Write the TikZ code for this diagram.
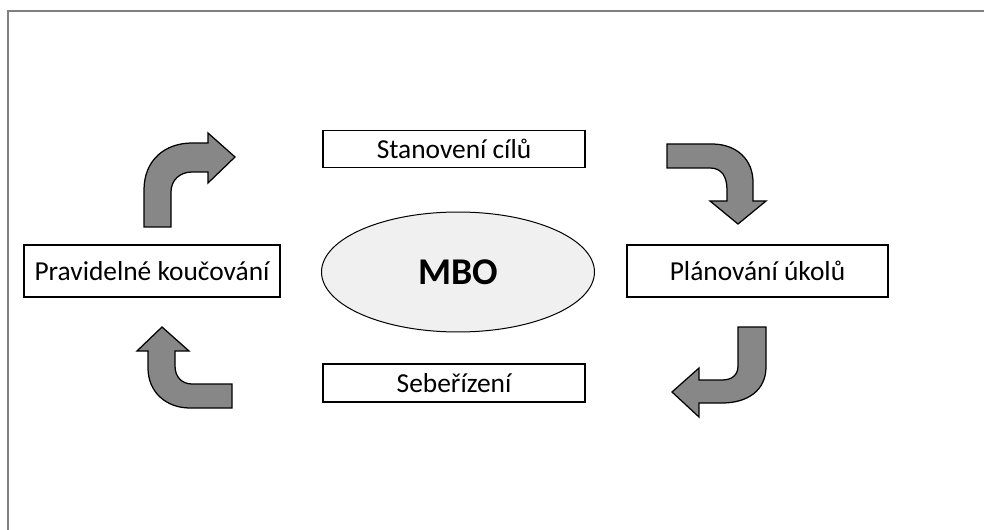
\documentclass[tikz,border=0pt]{standalone}
\usepackage{fontspec}
\setmainfont{Carlito}
\usetikzlibrary{shapes.geometric}

\begin{document}
\begin{tikzpicture}[x=0.02cm,y=-0.02cm,
    stagebox/.style={draw,line width=0.03cm,inner sep=0pt,minimum height=1.04cm,
        font=\fontsize{15.6}{18}\selectfont},
    bentarrow/.style={draw,line width=0.025cm,fill=black!47,line join=miter}]
    \useasboundingbox (0,0) rectangle (984,530);
    \draw[gray,line width=0.035cm] (8,530) -- (8,11) -- (984,11);

    \node[draw,ellipse,line width=0.02cm,fill=gray!12,minimum width=5.46cm,minimum height=2.4cm,
        font=\fontsize{21.5}{25}\selectfont\bfseries] (mbo) at (458,272) {MBO};

    \node[stagebox,minimum width=5.24cm,minimum height=0.74cm] (goals) at (454,149) {Stanovení cílů};
    \node[stagebox,minimum width=5.22cm] (plan) at (757.5,271) {Plánování úkolů};
    \node[stagebox,minimum width=5.24cm,minimum height=0.76cm] (self) at (454,383) {Sebeřízení};
    \node[stagebox,minimum width=5.12cm] (coach) at (152,271) {Pravidelné koučování};

    \draw[bentarrow] (144,227) -- (144,190) .. controls (144,160) and (165,143) .. (192,143)
        -- (208,143) -- (208,133) -- (235,157) -- (208,183) -- (208,172) -- (192,172)
        .. controls (180,172) and (171,180) .. (171,192) -- (171,227) -- cycle;
    \draw[bentarrow] (667,144) -- (712,144) .. controls (737,144) and (753,160) .. (753,182)
        -- (753,201) -- (766,201) -- (738,224) -- (710,201) -- (727,201) -- (727,190)
        .. controls (727,177) and (722,168) .. (710,168) -- (667,168) -- cycle;
    \draw[bentarrow] (738,327) -- (766,327) -- (766,367) .. controls (766,390) and (748,403) .. (722,403)
        -- (699,403) -- (699,417) -- (672,392) -- (699,368) -- (699,380) -- (722,380)
        .. controls (732,380) and (738,375) .. (738,366) -- cycle;
    \draw[bentarrow] (232,384) -- (232,408) -- (190,408) .. controls (166,408) and (148,392) .. (148,368)
        -- (148,351) -- (137,351) -- (162,327) -- (189,351) -- (175,351) -- (175,366)
        .. controls (175,377) and (182,384) .. (192,384) -- cycle;
\end{tikzpicture}
\end{document}
